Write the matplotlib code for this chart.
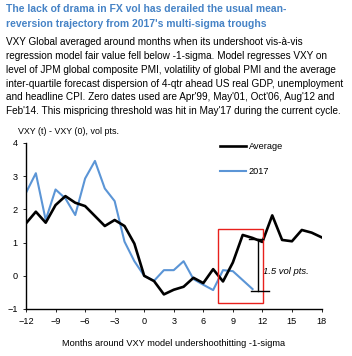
import matplotlib
matplotlib.use("Agg")
import matplotlib.pyplot as plt

# months around the model undershoot
months = list(range(-12, 19))
average = [1.58, 1.93, 1.60, 2.13, 2.40, 2.20, 2.10, 1.80, 1.50, 1.68, 1.50, 0.97,
           0.00, -0.16, -0.56, -0.42, -0.33, -0.06, -0.22, 0.20, -0.17, 0.40,
           1.23, 1.14, 1.02, 1.82, 1.08, 1.04, 1.38, 1.30, 1.16]
months_2017 = list(range(-12, 12))
vxy_2017 = [2.50, 3.09, 1.68, 2.60, 2.33, 1.83, 2.93, 3.46, 2.63, 2.25, 1.03, 0.44,
            0.00, -0.15, 0.17, 0.17, 0.44, -0.10, -0.27, -0.43, 0.17, 0.14,
            -0.13, -0.40]
xticks = list(range(-12, 19, 3))
yticks = [-1, 0, 1, 2, 3, 4]

TITLE_BLUE = "#4683c6"
LINE_BLUE = "#5b95d6"

plt.rcParams["font.family"] = ["Liberation Sans", "DejaVu Sans"]

fig = plt.figure(figsize=(3.52, 3.56), dpi=100)

# no narrow face available, so the title is set a bit smaller to keep its width
title = ("The lack of drama in FX vol has derailed the usual mean-\n"
         "reversion trajectory from 2017's multi-sigma troughs")
fig.text(6 / 352, 1 - 4.5 / 356, title, ha="left", va="top", color=TITLE_BLUE,
         fontsize=7.45, fontweight="bold", linespacing=1.6)

body = ("VXY Global averaged around months when its undershoot vis-à-vis\n"
        "regression model fair value fell below -1-sigma. Model regresses VXY on\n"
        "level of JPM global composite PMI, volatility of global PMI and the average\n"
        "inter-quartile forecast dispersion of 4-qtr ahead US real GDP, unemployment\n"
        "and headline CPI. Zero dates used are Apr'99, May'01, Oct'06, Aug'12 and\n"
        "Feb'14. This mispricing threshold was hit in May'17 during the current cycle.")
fig.text(6 / 352, 1 - 37 / 356, body, ha="left", va="top", color="black",
         fontsize=7.2, linespacing=1.48)

ax = fig.add_axes([26 / 352, 1 - 309 / 356, 295.5 / 352, 166 / 356])
ax.plot(months, average, color="black", lw=1.9, label="Average", zorder=3)
ax.plot(months_2017, vxy_2017, color=LINE_BLUE, lw=1.5, label="2017", zorder=2)

# highlight box and the gap bracket
ax.add_patch(plt.Rectangle((7.46, -0.83), 4.58, 2.25, fill=False,
                           edgecolor="#e8201c", lw=1.0, zorder=4))
ax.plot([11.53, 11.53], [-0.46, 1.10], color="black", lw=1.0, zorder=5)
ax.plot([10.6, 12.05], [1.10, 1.10], color="black", lw=1.0, zorder=5)
ax.plot([10.8, 12.7], [-0.46, -0.46], color="black", lw=1.0, zorder=5)
ax.text(12.1, 0.12, "1.5 vol pts.", fontsize=6.8, style="italic",
        ha="left", va="center")

ax.set_xlim(-12, 18)
ax.set_ylim(-1, 4)
ax.set_xticks(xticks)
ax.set_yticks(yticks)
ax.tick_params(labelsize=6.6, length=2, width=0.6, pad=4)
ax.spines[["top", "right"]].set_visible(False)
ax.spines[["left", "bottom"]].set_linewidth(1.0)
ax.set_xlabel("Months around VXY model undershoothitting -1-sigma",
              fontsize=6.7, labelpad=9)
ax.text(-8 / 295.5, 1.07, "VXY (t) - VXY (0), vol pts.", fontsize=6.4,
        ha="left", va="center", transform=ax.transAxes)

ax.legend(loc="upper left", bbox_to_anchor=(0.627, 1.055), frameon=False,
          fontsize=6.6, handlelength=2.9, handletextpad=0.3,
          labelspacing=1.75)

fig.savefig("out.png", dpi=100)
